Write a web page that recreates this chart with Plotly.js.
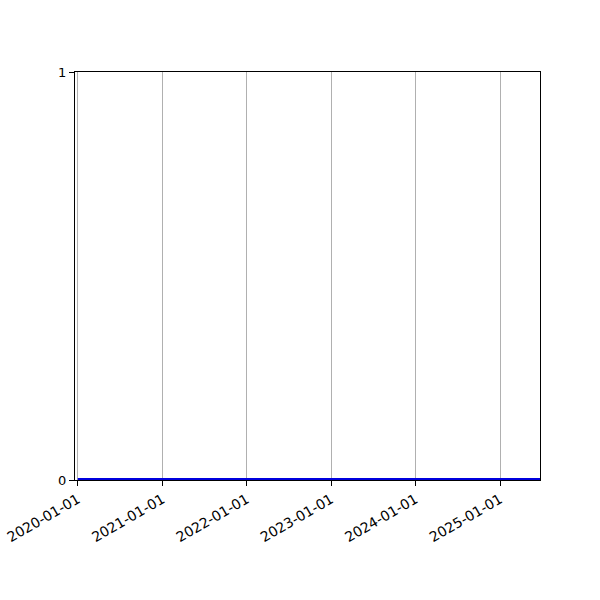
<!DOCTYPE html>
<html>
<head>
<meta charset="utf-8">
<script src="https://cdn.plot.ly/plotly-3.0.1.min.js"></script>
<style>html,body{margin:0;padding:0;background:#fff;}#chart{width:600px;height:600px;}</style>
</head>
<body>
<div id="chart"></div>
<script>
const dates = ['2020-01-01', '2025-07-01'];
const values = [0, 0];
const tickDates = ['2020-01-01', '2021-01-01', '2022-01-01', '2023-01-01', '2024-01-01', '2025-01-01'];
const tickLabels = ['2020-01-01', '2021-01-01', '2022-01-01', '2023-01-01', '2024-01-01', '2025-01-01'];
const yTicks = [0, 1];

Plotly.newPlot('chart', [{
  x: dates, y: values, type: 'scatter', mode: 'lines',
  line: {color: '#0000dd', width: 4}, hoverinfo: 'skip'
}], {
  width: 600, height: 600,
  margin: {l: 75, r: 60, t: 72, b: 120},
  paper_bgcolor: '#fff', plot_bgcolor: '#fff',
  showlegend: false,
  font: {family: 'DejaVu Sans', size: 13, color: '#000'},
  xaxis: {
    type: 'date', range: ['2019-12-20', '2025-06-23'],
    tickmode: 'array', tickvals: tickDates, ticktext: tickLabels,
    tickangle: -30, ticks: 'outside', ticklen: 5, tickcolor: '#000',
    tickfont: {family: 'DejaVu Sans', size: 14, color: '#000'},
    showgrid: true, gridcolor: '#b0b0b0', gridwidth: 1,
    showline: true, linecolor: '#000', linewidth: 1, mirror: true,
    zeroline: false
  },
  yaxis: {
    range: [0, 1], tickmode: 'array', tickvals: yTicks, ticktext: ['0', '1'],
    ticks: 'outside', ticklen: 5, tickcolor: '#000',
    showgrid: false, showline: true, linecolor: '#000', linewidth: 1, mirror: true,
    zeroline: false
  }
}, {staticPlot: true});
</script>
</body>
</html>
